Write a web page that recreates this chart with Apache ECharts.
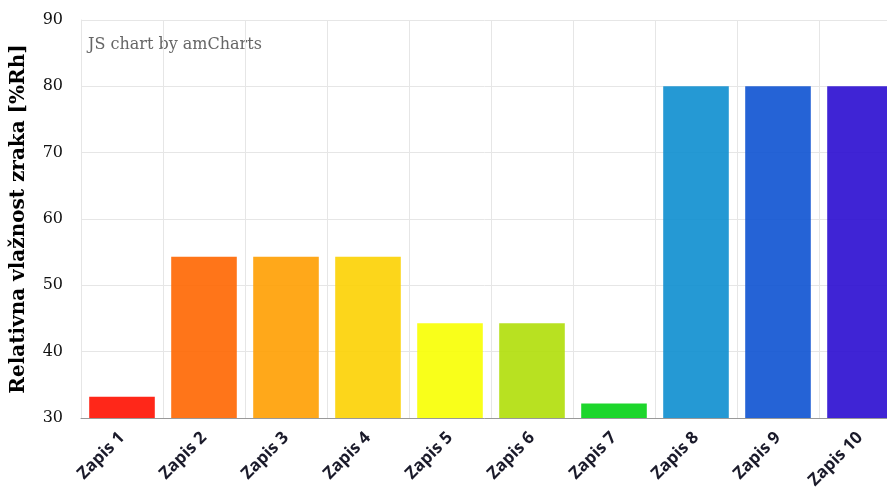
<!DOCTYPE html>
<html><head><meta charset="utf-8">
<script src="https://cdn.jsdelivr.net/npm/echarts@6/dist/echarts.min.js"></script>
<style>html,body{margin:0;padding:0;background:#fff;overflow:hidden}#c{width:887px;height:495px}</style>
</head><body><div id="c"></div>
<script>
const categories = ["Zapis 1","Zapis 2","Zapis 3","Zapis 4","Zapis 5","Zapis 6","Zapis 7","Zapis 8","Zapis 9","Zapis 10"];
const values = [33.2, 54.3, 54.3, 54.3, 44.3, 44.3, 32.2, 80, 80, 80];
const colors = ["#FF0F00","#FF6600","#FF9E01","#FCD202","#F8FF01","#B0DE09","#04D215","#0D8ECF","#0D52D1","#2A0CD0"];
const yTitle = "Relativna vlažnost zraka [%Rh]";
const credit = "JS chart by amCharts";

const chart = echarts.init(document.getElementById('c'));
chart.setOption({
  animation: false,
  grid: {left: 81, width: 820, top: 20, bottom: 77, containLabel: false, outerBoundsMode: 'none'},
  graphic: [{type: 'text', left: 88, top: 37, style: {text: credit, font: '16px "DejaVu Serif", serif', fill: '#666'}}],
  xAxis: {
    type: 'category', data: categories,
    axisLine: {lineStyle: {color: '#999'}},
    axisTick: {alignWithLabel: true, length: 6, lineStyle: {color: '#999'}},
    splitLine: {show: true, lineStyle: {color: '#e6e6e6'}},
    axisLabel: {rotate: 45, interval: 0, margin: 17, color: '#1a1a2a', fontFamily: '"Open Sans", sans-serif', fontSize: 17, fontWeight: 'bold'}
  },
  yAxis: {
    type: 'value', min: 30, max: 90, interval: 10,
    name: yTitle, nameLocation: 'middle', nameGap: 52, nameRotate: 90,
    nameTextStyle: {fontFamily: '"DejaVu Serif", serif', fontSize: 20, fontWeight: 'bold', color: '#000'},
    axisLine: {show: true, lineStyle: {color: '#e6e6e6'}},
    axisTick: {show: false},
    splitLine: {lineStyle: {color: '#e6e6e6'}},
    axisLabel: {margin: 18, color: '#111', fontFamily: '"DejaVu Serif", serif', fontSize: 16}
  },
  series: [{
    type: 'bar', barCategoryGap: '20%',
    data: values.map((v, i) => ({value: v, itemStyle: {color: colors[i], opacity: 0.9}}))
  }]
});
</script></body></html>
